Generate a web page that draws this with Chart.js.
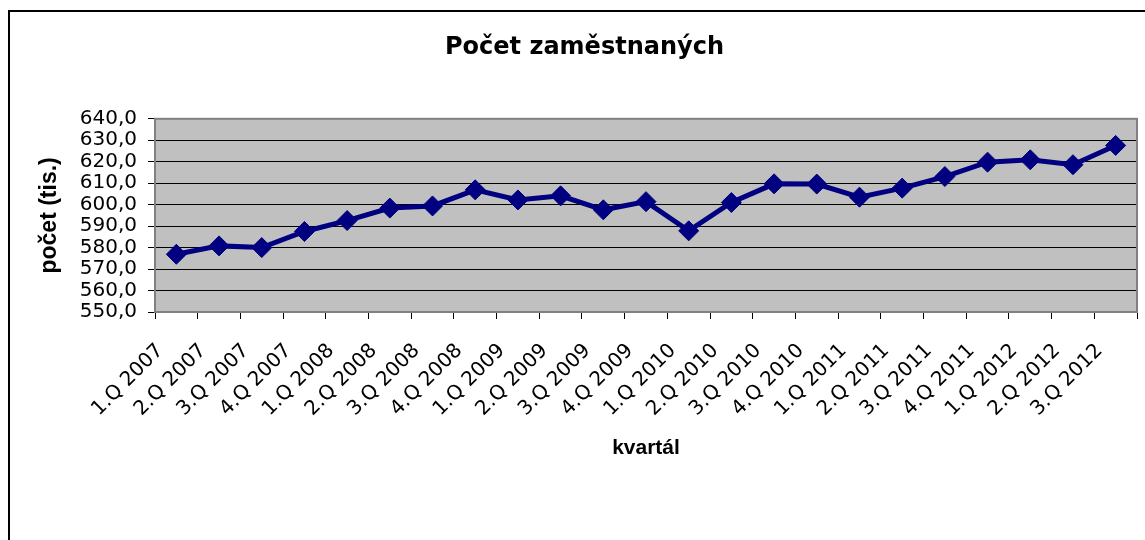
<!DOCTYPE html>
<html>
<head>
<meta charset="utf-8">
<script src="https://cdn.jsdelivr.net/npm/chart.js@4"></script>
<style>
    body { margin: 0; background: #fff; overflow: hidden; }
    #ramecek {
        position: absolute;
        left: 8px;
        top: 10px;
        width: 1143px;
        height: 540px;
        border-left: 2px solid #000;
        border-top: 2px solid #000;
    }
</style>
</head>
<body>
<div id="ramecek">
    <canvas id="graf" width="1143" height="528"></canvas>
</div>
<script>
const kvartaly = ["1.Q 2007", "2.Q 2007", "3.Q 2007", "4.Q 2007",
    "1.Q 2008", "2.Q 2008", "3.Q 2008", "4.Q 2008",
    "1.Q 2009", "2.Q 2009", "3.Q 2009", "4.Q 2009",
    "1.Q 2010", "2.Q 2010", "3.Q 2010", "4.Q 2010",
    "1.Q 2011", "2.Q 2011", "3.Q 2011", "4.Q 2011",
    "1.Q 2012", "2.Q 2012", "3.Q 2012"];
const pocet = [576.9, 580.8, 580.0, 587.5, 592.6, 598.4, 599.4, 606.9,
    602.2, 604.1, 597.6, 601.4, 587.8, 601.0, 609.7, 609.6,
    603.5, 607.7, 613.1, 619.8, 620.9, 618.6, 627.6];
const osaY = { min: 550, max: 640, krok: 10 };

// sede pozadi a ramecek plochy grafu
const plocha = {
    id: "plocha",
    beforeDraw(chart) {
        const { ctx, chartArea: a } = chart;
        ctx.save();
        ctx.fillStyle = "#c0c0c0";
        ctx.fillRect(a.left, a.top, a.right - a.left, a.bottom - a.top);
        ctx.restore();
    },
    beforeDatasetsDraw(chart) {
        const { ctx, chartArea: a } = chart;
        ctx.save();
        ctx.strokeStyle = "#808080";
        ctx.lineWidth = 2;
        ctx.strokeRect(a.left, a.top, a.right - a.left, a.bottom - a.top);
        ctx.restore();
    }
};

Chart.defaults.color = "#000";
Chart.defaults.font.family = "'DejaVu Sans', sans-serif";

new Chart(document.getElementById("graf"), {
    type: "line",
    data: {
        labels: kvartaly,
        datasets: [{
            data: pocet,
            borderColor: "#000080",
            backgroundColor: "#000080",
            borderWidth: 5,
            pointStyle: "rectRot",
            pointRadius: 10,
            pointBorderWidth: 1,
            tension: 0
        }]
    },
    options: {
        responsive: false,
        animation: false,
        layout: { padding: { left: 22, right: 16, top: 0, bottom: 75 } },
        plugins: {
            legend: { display: false },
            tooltip: { enabled: false },
            title: {
                display: true,
                text: "Počet zaměstnaných",
                font: { size: 24, weight: "bold" },
                padding: { top: 21, bottom: 57 }
            }
        },
        scales: {
            x: {
                offset: true,
                grid: { display: true, drawOnChartArea: false, offset: true, color: "#000", tickLength: 7 },
                border: { display: false },
                ticks: {
                    autoSkip: false,
                    minRotation: 45,
                    maxRotation: 45,
                    padding: 20,
                    labelOffset: -16,
                    font: { size: 20 }
                },
                title: {
                    display: true,
                    text: "kvartál",
                    font: { family: "'Liberation Sans', Arial, sans-serif", size: 21, weight: "bold" },
                    padding: 4
                },
                afterFit(s) { s.height = 153; }
            },
            y: {
                min: osaY.min,
                max: osaY.max,
                grid: { color: "#000", tickLength: 7 },
                border: { display: false },
                ticks: {
                    stepSize: osaY.krok,
                    autoSkip: false,
                    padding: 11,
                    font: { size: 20 },
                    callback: v => v.toFixed(1).replace(".", ",")
                },
                title: {
                    display: true,
                    text: "počet (tis.)",
                    font: { family: "'Liberation Sans', Arial, sans-serif", size: 23, weight: "bold" },
                    padding: 4
                },
                afterFit(s) { s.width = 123; }
            }
        }
    },
    plugins: [plocha]
});
</script>
</body>
</html>
